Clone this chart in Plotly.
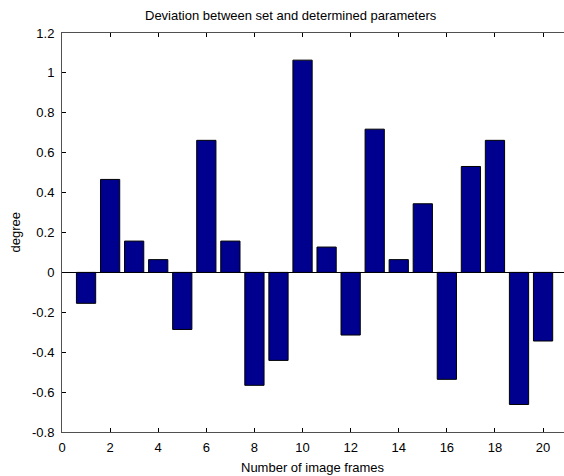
import plotly.graph_objects as go

frames = list(range(1, 21))
deviation = [-0.155, 0.466, 0.157, 0.064, -0.286, 0.662, 0.157, -0.566, -0.441, 1.064,
             0.127, -0.314, 0.718, 0.064, 0.344, -0.536, 0.531, 0.662, -0.662, -0.344]

y_ticks = [-0.8, -0.6, -0.4, -0.2, 0, 0.2, 0.4, 0.6, 0.8, 1, 1.2]
y_labels = ["-0.8", "-0.6", "-0.4", "-0.2", "0", "0.2", "0.4", "0.6", "0.8", "1", "1.2"]
x_ticks = [0, 2, 4, 6, 8, 10, 12, 14, 16, 18, 20]
x_labels = [str(v) for v in x_ticks]

font = "Liberation Sans, Arial, sans-serif"
axis_col = "#505050"
fs = 13

fig = go.Figure()
fig.add_trace(go.Bar(
    x=frames, y=deviation, width=0.8,
    marker=dict(color="#00008F", line=dict(color="black", width=1)),
    showlegend=False,
))

fig.update_layout(
    width=564, height=476,
    margin=dict(l=62, r=0, t=33, b=44),
    paper_bgcolor="white", plot_bgcolor="white",
    font=dict(family=font, size=fs, color="black"),
    annotations=[
        dict(text="Deviation between set and determined parameters", xref="paper", yref="paper",
             x=0.456, y=1, yshift=18, xanchor="center", yanchor="middle", showarrow=False,
             font=dict(size=fs)),
        dict(text="Number of image frames", xref="paper", yref="paper",
             x=0.5, y=0, yshift=-35, xanchor="center", yanchor="middle", showarrow=False,
             font=dict(size=fs)),
        dict(text="degree", xref="paper", yref="paper", textangle=-90,
             x=0, xshift=-47, y=0.5, xanchor="center", yanchor="middle", showarrow=False,
             font=dict(size=fs)),
    ],
)
fig.update_xaxes(
    range=[0, 20.87], tickmode="array", tickvals=x_ticks, ticktext=x_labels,
    ticks="inside", ticklen=4, tickcolor="black", showgrid=False, zeroline=False,
    showline=True, linecolor=axis_col, linewidth=1, mirror="ticks",
    tickfont=dict(size=fs), ticklabelstandoff=3,
)
fig.update_yaxes(
    range=[-0.8, 1.2], tickmode="array", tickvals=y_ticks, ticktext=y_labels,
    ticks="inside", ticklen=4, tickcolor="black", showgrid=False,
    zeroline=True, zerolinecolor="black", zerolinewidth=1,
    showline=True, linecolor=axis_col, linewidth=1,
    tickfont=dict(size=fs), ticklabelstandoff=4,
)

fig.write_html("out.html")
